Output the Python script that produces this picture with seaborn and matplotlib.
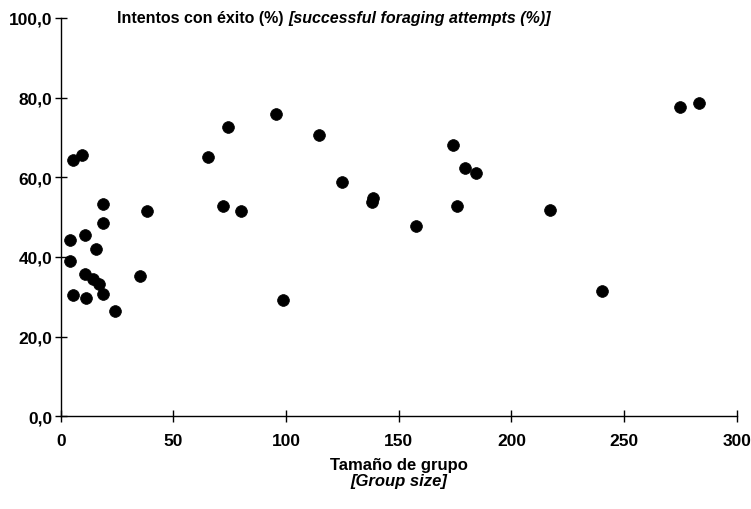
import numpy as np
import pandas as pd
import matplotlib
matplotlib.use("Agg")
import matplotlib.pyplot as plt
import seaborn as sns
from matplotlib.ticker import FuncFormatter

sns.set_style("white")
plt.rcParams['font.family'] = ['Liberation Sans', 'DejaVu Sans']
plt.rcParams['text.color'] = 'black'

# group size vs. successful foraging attempts (%)
group_size = [5.6, 9.3, 4.0, 10.7, 18.6, 18.6, 15.6, 4.0, 10.7, 14.1, 17.0,
              5.5, 11.3, 18.5, 24.1, 35.3, 38.1, 65.3, 74.2, 72.0, 80.0,
              95.6, 98.7, 114.7, 124.9, 138.2, 138.7, 157.8, 174.2, 176.0,
              179.6, 184.4, 217.3, 240.0, 274.7, 283.1]
success = [64.4, 65.6, 44.3, 45.5, 53.2, 48.5, 41.9, 39.0, 35.6, 34.4, 33.2,
           30.4, 29.7, 30.7, 26.4, 35.3, 51.4, 65.1, 72.6, 52.8, 51.5,
           75.9, 29.1, 70.6, 58.8, 53.8, 54.8, 47.7, 68.1, 52.8,
           62.3, 61.1, 51.8, 31.4, 77.6, 78.6]

df = pd.DataFrame({"size": group_size, "success": success})

fig = plt.figure(figsize=(7.51, 5.10), dpi=100)
ax = fig.add_axes([0.081, 0.182, 0.9, 0.781])

sns.scatterplot(data=df, x="size", y="success", ax=ax, color="black",
                s=72, edgecolor="black", linewidth=0.5, legend=False)

ax.set_xlim(0, 300)
ax.set_ylim(0, 100)
ax.set_xticks(np.arange(0, 301, 50))
ax.set_yticks(np.arange(0, 101, 20))
ax.yaxis.set_major_formatter(FuncFormatter(lambda v, p: f"{v:.1f}".replace(".", ",")))
ax.tick_params(bottom=True, left=True, direction="inout", length=8, width=1,
               colors="black", labelcolor="black", labelsize=12.5)
ax.tick_params(axis="x", pad=8)
ax.tick_params(axis="y", pad=2)
for lab in ax.get_xticklabels() + ax.get_yticklabels():
    lab.set_fontweight("bold")

sns.despine(ax=ax)
for sp in ["left", "bottom"]:
    ax.spines[sp].set_color("black")
    ax.spines[sp].set_linewidth(1)

ax.set_xlabel("")
ax.set_ylabel("")

t1 = fig.text(0.156, 0.963, "Intentos con éxito (%) ", fontsize=11.5,
              fontweight="bold", va="center", ha="left", color="black")
ax.annotate("[successful foraging attempts (%)]", xy=(1, 0), xycoords=t1,
            va="bottom", ha="left", fontsize=11.5, fontweight="bold",
            style="italic", color="black")

fig.text(0.531, 0.088, "Tamaño de grupo", fontsize=12, fontweight="bold",
         ha="center", va="center", color="black")
fig.text(0.531, 0.056, "[Group size]", fontsize=12, fontweight="bold",
         style="italic", ha="center", va="center", color="black")

fig.savefig("out.png", dpi=100)
